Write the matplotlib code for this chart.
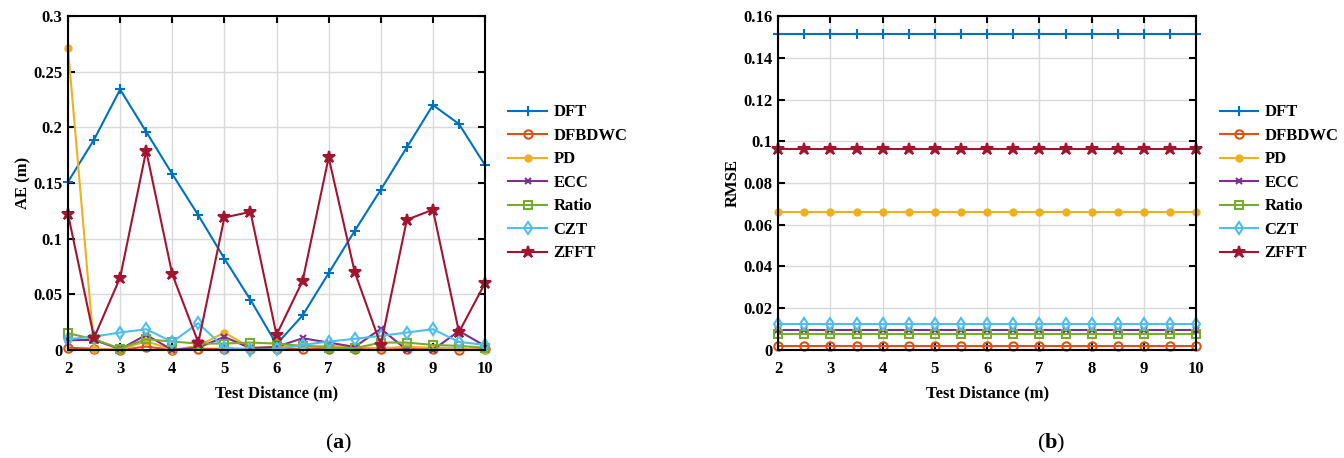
import matplotlib.pyplot as plt
import numpy as np

plt.rcParams['font.family'] = 'Liberation Serif'
plt.rcParams['font.weight'] = 'bold'
plt.rcParams['mathtext.fontset'] = 'custom'
plt.rcParams['mathtext.rm'] = 'Liberation Serif'
plt.rcParams['mathtext.bf'] = 'Liberation Serif:bold'

# test distances (m)
distance = [2, 2.5, 3, 3.5, 4, 4.5, 5, 5.5, 6, 6.5, 7, 7.5, 8, 8.5, 9, 9.5, 10]

# absolute error per method (m)
ae_dft = [0.151, 0.189, 0.234, 0.196, 0.158, 0.121, 0.082, 0.045, 0.005, 0.031,
          0.069, 0.107, 0.144, 0.182, 0.220, 0.203, 0.166]
ae_dfbdwc = [0.002, 0.001, 0.0, 0.003, 0.0, 0.001, 0.001, 0.001, 0.001, 0.001,
             0.001, 0.001, 0.001, 0.001, 0.001, 0.0, 0.001]
ae_pd = [0.271, 0.001, 0.0, 0.008, 0.0, 0.0036, 0.0156, 0.002, 0.0027, 0.0036,
         0.0036, 0.0027, 0.0015, 0.0027, 0.002, 0.0015, 0.0]
ae_ecc = [0.0087, 0.009, 0.0006, 0.0135, 0.0, 0.002, 0.0117, 0.0015, 0.0027, 0.0105,
          0.0066, 0.0027, 0.019, 0.0, 0.0, 0.017, 0.0036]
ae_ratio = [0.015, 0.0096, 0.0012, 0.0096, 0.0075, 0.0057, 0.0057, 0.0066, 0.0057, 0.0036,
            0.002, 0.0015, 0.0066, 0.0066, 0.0045, 0.0036, 0.002]
ae_czt = [0.0096, 0.012, 0.0156, 0.0186, 0.0072, 0.024, 0.002, 0.0, 0.0006, 0.0045,
          0.0075, 0.010, 0.0126, 0.0156, 0.0186, 0.0072, 0.0045]
ae_zfft = [0.122, 0.011, 0.065, 0.179, 0.068, 0.0066, 0.119, 0.124, 0.0135, 0.062,
           0.173, 0.070, 0.0045, 0.117, 0.126, 0.016, 0.060]

# RMSE per method (constant over distance)
rmse_dft = 0.1515
rmse_dfbdwc = 0.002
rmse_pd = 0.066
rmse_ecc = 0.0094
rmse_ratio = 0.0075
rmse_czt = 0.0122
rmse_zfft = 0.0965

names = ['DFT', 'DFBDWC', 'PD', 'ECC', 'Ratio', 'CZT', 'ZFFT']
colors = ['#0072BD', '#D95319', '#EDB120', '#7E2F8E', '#77AC30', '#4DBEEE', '#A2142F']
markers = ['+', 'o', '.', 'x', 's', 'd', '*']
msizes = [7, 6, 9, 5, 6, 6, 9]
filled = [True, False, True, True, False, False, True]

ae_all = [ae_dft, ae_dfbdwc, ae_pd, ae_ecc, ae_ratio, ae_czt, ae_zfft]
rmse_all = [rmse_dft, rmse_dfbdwc, rmse_pd, rmse_ecc, rmse_ratio, rmse_czt, rmse_zfft]


def draw_lines(ax, series):
    for vals, name, c, m, ms, f in zip(series, names, colors, markers, msizes, filled):
        ax.plot(distance, vals, color=c, marker=m, markersize=ms, linewidth=1.5,
                markeredgewidth=1.5, markerfacecolor=c if f else 'none', label=name,
                clip_on=False)


def style_axes(ax):
    ax.set_xlim(2, 10)
    ax.set_xticks(range(2, 11))
    ax.grid(True, color='#d9d9d9', linewidth=1)
    ax.set_axisbelow(True)
    ax.tick_params(direction='in', top=True, right=True, length=5, width=1.5,
                   labelsize=12)
    ax.tick_params(axis='x', pad=8)
    ax.tick_params(axis='y', pad=4)
    for s in ax.spines.values():
        s.set_linewidth(1.5)
        s.set_zorder(5)
    ax.set_xlabel('Test Distance (m)', fontsize=12, fontweight='bold', labelpad=6)
    ax.legend(loc='center left', bbox_to_anchor=(1.04, 0.5), frameon=False,
              fontsize=12, handlelength=2.3, handletextpad=0.4, labelspacing=0.45,
              borderaxespad=0)


fig = plt.figure(figsize=(13.44, 4.58), dpi=100)
ax1 = fig.add_axes([0.0506, 0.236, 0.3103, 0.729])
ax2 = fig.add_axes([0.579, 0.236, 0.311, 0.729])

draw_lines(ax1, ae_all)
style_axes(ax1)
ax1.set_ylim(0, 0.3)
ax1.set_yticks([0, 0.05, 0.1, 0.15, 0.2, 0.25, 0.3])
ax1.set_yticklabels(['0', '0.05', '0.1', '0.15', '0.2', '0.25', '0.3'])
ax1.set_ylabel('AE (m)', fontsize=12, fontweight='bold', labelpad=1)

draw_lines(ax2, [[v] * len(distance) for v in rmse_all])
style_axes(ax2)
ax2.set_ylim(0, 0.16)
ax2.set_yticks(np.arange(0, 0.161, 0.02))
ax2.set_yticklabels(['0', '0.02', '0.04', '0.06', '0.08', '0.1', '0.12', '0.14', '0.16'])
ax2.set_ylabel('RMSE', fontsize=12, fontweight='bold', labelpad=2)

fig.text(0.252, 0.02, r'($\mathbf{a}$)', ha='center', fontsize=16, fontweight='normal')
fig.text(0.782, 0.02, r'($\mathbf{b}$)', ha='center', fontsize=16, fontweight='normal')

fig.savefig('out.png', dpi=100)
plt.close()
